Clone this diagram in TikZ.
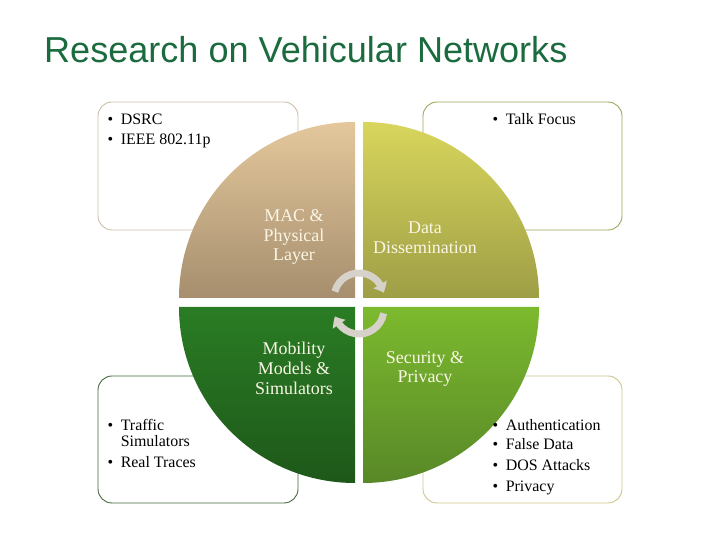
\documentclass[tikz,border=0pt]{standalone}
\usepackage{fontspec}
\setmainfont{Liberation Serif}
\newfontfamily\titlefont{Liberation Sans}
\usepackage{tikz}
\usetikzlibrary{arrows.meta,bending}

\definecolor{titlegreen}{RGB}{27,107,63}
\definecolor{labelcream}{RGB}{250,246,230}
\definecolor{arrowgray}{RGB}{214,210,202}

\tikzset{
	infobox/.style={draw, fill=white, rounded corners=14bp, line width=0.9bp},
	layerlabel/.style={align=center, text=labelcream, font=\fontsize{18}{20}\selectfont, inner sep=0pt},
	bulletlist/.style={anchor=north west, inner sep=0pt, font=\fontsize{16}{17}\selectfont},
	cyclearrow/.style={draw=arrowgray, line width=7bp, -{Triangle[width=15bp,length=9bp,bend]}}
}

\begin{document}
\begin{tikzpicture}[x=1bp,y=1bp]
	\useasboundingbox[fill=white] (0,0) rectangle (720,540);
	\node[anchor=base west, inner sep=0pt, text=titlegreen, font=\titlefont\fontsize{36.2}{40}\selectfont] (title) at (44,477.5) {Research on Vehicular Networks};

	\draw[infobox, draw={rgb,255:red,205;green,192;blue,168}] (98,310) rectangle (298,438);
	\draw[infobox, draw={rgb,255:red,160;green,166;blue,88}] (423,310) rectangle (622,438);
	\draw[infobox, draw={rgb,255:red,70;green,104;blue,62}] (98,37) rectangle (298,164);
	\draw[infobox, draw={rgb,255:red,204;green,198;blue,140}] (423,37) rectangle (622,164);

	\shade[top color={rgb,255:red,228;green,200;blue,156}, bottom color={rgb,255:red,166;green,142;blue,110}] (355,242) -- ++(-176,0) arc[start angle=180,end angle=90,radius=176] -- cycle;
	\shade[top color={rgb,255:red,216;green,214;blue,92}, bottom color={rgb,255:red,158;green,158;blue,70}] (363,242) -- ++(0,176) arc[start angle=90,end angle=0,radius=176] -- cycle;
	\shade[top color={rgb,255:red,42;green,124;blue,36}, bottom color={rgb,255:red,30;green,88;blue,26}] (355,233) -- ++(-176,0) arc[start angle=180,end angle=270,radius=176] -- cycle;
	\shade[top color={rgb,255:red,124;green,186;blue,46}, bottom color={rgb,255:red,88;green,136;blue,40}] (363,233) -- ++(176,0) arc[start angle=0,end angle=-90,radius=176] -- cycle;

	\node[layerlabel] (mac) at (294,303) {MAC \&\\Physical\\Layer};
	\node[layerlabel] (data) at (425,302.5) {Data\\Dissemination};
	\node[layerlabel] (mobility) at (294,172) {Mobility\\Models \&\\Simulators};
	\node[layerlabel] (security) at (425,171) {Security \&\\Privacy};

	\draw[cyclearrow] (359,242) ++(165:25) arc[start angle=165,end angle=12,radius=25];
	\draw[cyclearrow] (359,231) ++(-10:25) arc[start angle=-10,end angle=-163,radius=25];

	\node[bulletlist] (macitems) at (107.5,428) {\begin{tabular}{@{}l@{\hspace{7.5bp}}l@{}}\textbullet & DSRC\\[3.5bp] \textbullet & IEEE 802.11p\end{tabular}};
	\node[bulletlist] (dataitems) at (492.5,428) {\begin{tabular}{@{}l@{\hspace{7.5bp}}l@{}}\textbullet & Talk Focus\end{tabular}};
	\node[bulletlist] (mobilityitems) at (107.5,122) {\begin{tabular}{@{}l@{\hspace{7.5bp}}l@{}}\textbullet & Traffic\\ & Simulators\\[4bp] \textbullet & Real Traces\end{tabular}};
	\node[bulletlist] (securityitems) at (492.5,122) {\begin{tabular}{@{}l@{\hspace{7.5bp}}l@{}}\textbullet & Authentication\\[3bp] \textbullet & False Data\\[4bp] \textbullet & DOS Attacks\\[4bp] \textbullet & Privacy\end{tabular}};
\end{tikzpicture}
\end{document}
